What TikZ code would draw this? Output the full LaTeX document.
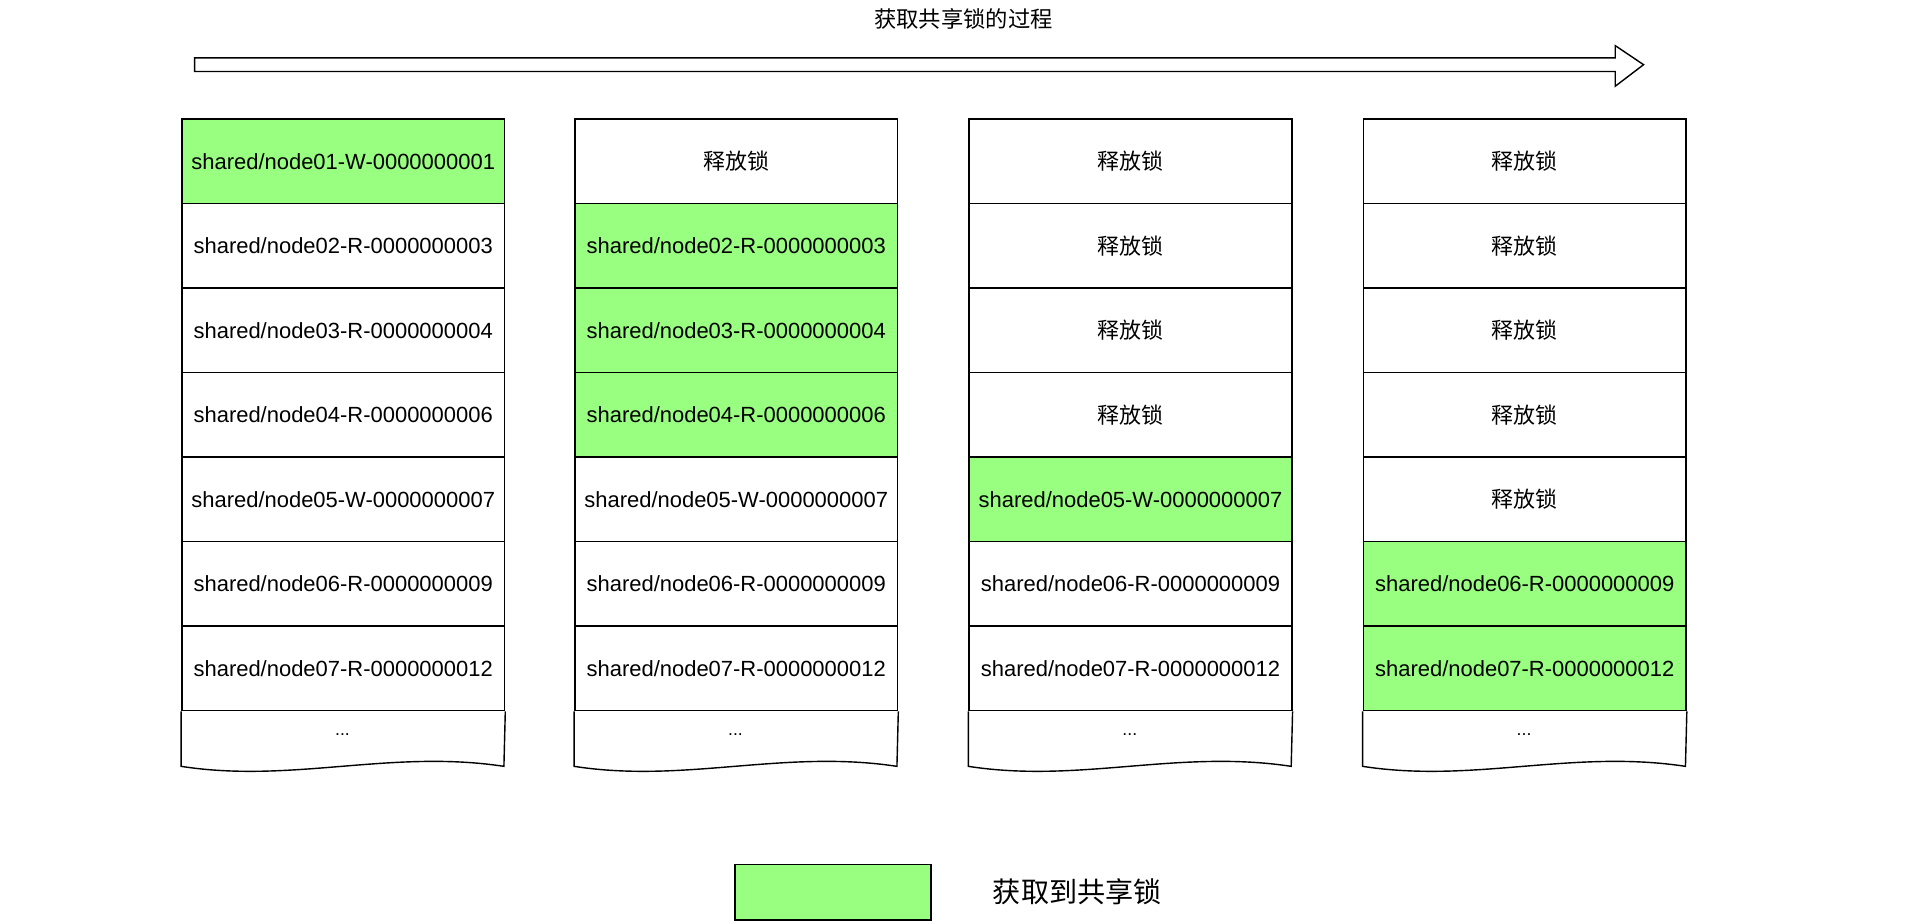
\documentclass[tikz,border=0pt]{standalone}
\usepackage{fontspec}
\setmainfont{Liberation Sans}
\newfontfamily\cjk{Noto Sans CJK SC}
\usetikzlibrary{positioning}
\definecolor{lockgreen}{RGB}{153,255,128}
\tikzset{
  cell/.style={draw, thick, minimum width=6.456cm, minimum height=1.69cm,
    inner sep=0pt, font=\fontsize{12.5}{14}\selectfont, anchor=north west},
  got/.style={fill=lockgreen},
}
\newcommand{\rel}{{\cjk 释放锁}}
\begin{document}
\begin{tikzpicture}[x=0.02464cm, y=-0.02464cm]
    \useasboundingbox (0, 0) rectangle (1560, 747);

    % title and time arrow
    \node (title) at (782, 15) {\cjk\fontsize{12.7}{14}\selectfont 获取共享锁的过程};
    \draw [thick, fill=white] (158, 47) -- (1311, 47) -- (1311, 37) -- (1334, 52.5)
        -- (1311, 70) -- (1311, 58) -- (158, 58) -- cycle;

    % columns
    \foreach \col/\x/\greens/\labels in {
        1/147/{1}/{shared/node01-W-0000000001,shared/node02-R-0000000003,shared/node03-R-0000000004,shared/node04-R-0000000006,shared/node05-W-0000000007,shared/node06-R-0000000009,shared/node07-R-0000000012},
        2/466/{2,3,4}/{\rel,shared/node02-R-0000000003,shared/node03-R-0000000004,shared/node04-R-0000000006,shared/node05-W-0000000007,shared/node06-R-0000000009,shared/node07-R-0000000012},
        3/786/{5}/{\rel,\rel,\rel,\rel,shared/node05-W-0000000007,shared/node06-R-0000000009,shared/node07-R-0000000012},
        4/1106/{6,7}/{\rel,\rel,\rel,\rel,\rel,shared/node06-R-0000000009,shared/node07-R-0000000012}} {
        \foreach \txt [count=\r] in \labels {
            \gdef\fillit{}
            \foreach \g in \greens {\ifnum\g=\r \gdef\fillit{got}\fi}
            \node [cell, \fillit] (c\col-\r) at (\x, {96 + (\r-1)*68.6}) {\txt};
        }
        % tail of the list
        \draw [thick, fill=white] (c\col-7.south west) -- (\x, 622)
            .. controls (\x+90, 636) and (\x+170, 608) .. (\x+262, 622)
            -- (c\col-7.south east);
        \node (more\col) at (\x+131, 596) {...};
    }

    % legend
    \node [draw, thick, got, minimum width=3.92cm, minimum height=1.11cm,
        anchor=north west] (key) at (596, 701) {};
    \node [right=1.1cm of key] (keytext) {\cjk\fontsize{16}{18}\selectfont 获取到共享锁};
\end{tikzpicture}
\end{document}
